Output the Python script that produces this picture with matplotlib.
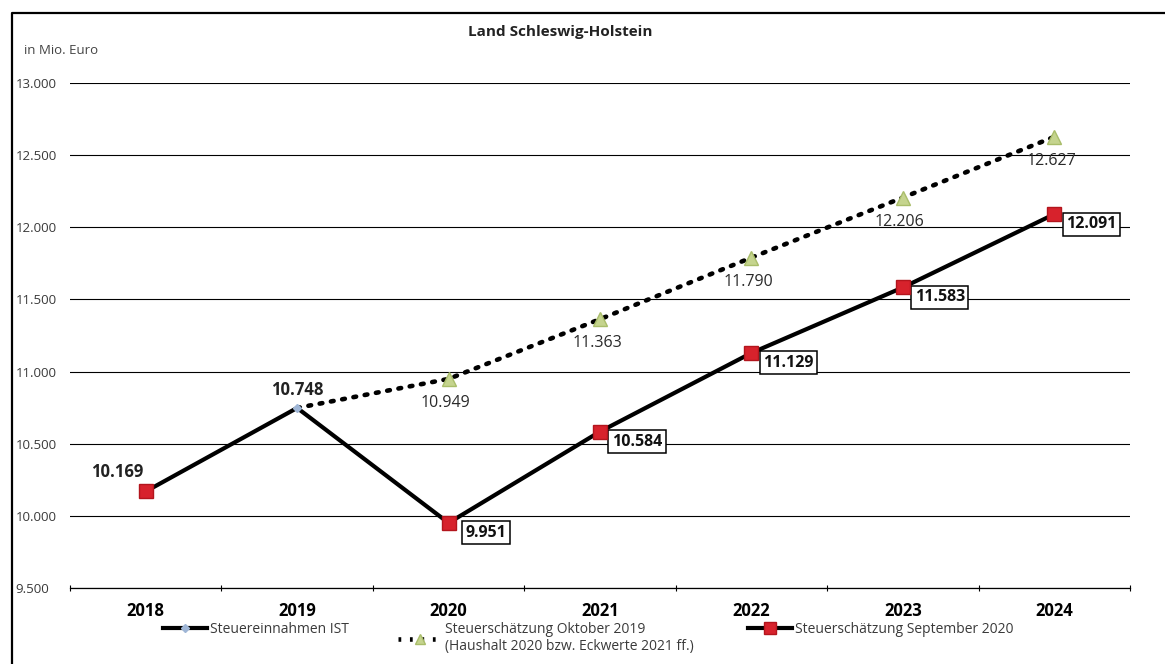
import numpy as np
import matplotlib.pyplot as plt
from matplotlib.lines import Line2D
from matplotlib.ticker import FuncFormatter

plt.rcParams['font.family'] = ['Open Sans', 'DejaVu Sans']

years = ["2018", "2019", "2020", "2021", "2022", "2023", "2024"]
ist = [10169, 10748]
okt2019 = [None, 10748, 10949, 11363, 11790, 12206, 12627]
sep2020 = [10169, 10748, 9951, 10584, 11129, 11583, 12091]
y_ticks = [9500, 10000, 10500, 11000, 11500, 12000, 12500, 13000]

W, H = 1165, 664
RED, RED_EDGE = "#d7222c", "#b3151d"
GREEN, GREEN_EDGE = "#c5d48e", "#a9bd6a"
BLUE = "#9fb6d6"
DOTS = (0, (0.6, 1.9))


def de_num(v, pos=None):
    return f"{int(v):,}".replace(",", ".")


fig = plt.figure(figsize=(W / 100, H / 100), dpi=100)
ax = fig.add_axes([70 / W, 1 - 588 / H, (1130 - 70) / W, (588 - 83) / H])

x = np.arange(len(years))
x_okt = [i for i, v in zip(x, okt2019) if v is not None]
y_okt = [v for v in okt2019 if v is not None]

# lines
ax.plot(x, sep2020, color="black", lw=3, zorder=3)
ax.plot(x_okt, y_okt, color="black", lw=3.3, ls=DOTS, dash_capstyle="round", zorder=3)
ax.plot(x_okt[1:], y_okt[1:], ls="none", marker="^", ms=9.5,
        color=GREEN, mec=GREEN_EDGE, zorder=4)
ax.plot(x, sep2020, ls="none", marker="s", ms=9.5, markevery=[0, 2, 3, 4, 5, 6],
        color=RED, mec=RED_EDGE, zorder=5)
ax.plot(x[:len(ist)], ist, ls="none", marker="D", ms=4, markevery=[1],
        color=BLUE, zorder=5)

# data labels
ax.annotate(de_num(ist[0]), (x[0], ist[0]), xytext=(-28, 19), textcoords="offset pixels",
            ha="center", va="center", fontsize=12, fontweight="bold", color="#222222")
ax.annotate(de_num(ist[1]), (x[1], ist[1]), xytext=(0, 18), textcoords="offset pixels",
            ha="center", va="center", fontsize=12, fontweight="bold", color="#222222")
for xi, v in zip(x_okt[1:], y_okt[1:]):
    ax.annotate(de_num(v), (xi, v), xytext=(-3, -24), textcoords="offset pixels",
                ha="center", va="center", fontsize=11.5, color="#2a2a2a")
for xi, v in zip(x[2:], sep2020[2:]):
    ax.annotate(de_num(v), (xi, v), xytext=(37, -10), textcoords="offset pixels",
                ha="center", va="center", fontsize=11.5, fontweight="bold", color="#111111",
                bbox=dict(boxstyle="square,pad=0.22", fc="white", ec="black", lw=1.1))

# axes styling
ax.set_xlim(-0.5, len(years) - 0.5)
ax.set_ylim(9500, 13000)
ax.set_yticks(y_ticks)
ax.yaxis.set_major_formatter(FuncFormatter(de_num))
ax.grid(axis="y", color="black", lw=0.8)
ax.set_axisbelow(True)
for s in ["left", "right", "top"]:
    ax.spines[s].set_visible(False)
ax.spines["bottom"].set_linewidth(0.9)
ax.tick_params(axis="y", length=0, pad=39, labelsize=9.5, labelcolor="#3a3a3a")
for lab in ax.get_yticklabels():
    lab.set_horizontalalignment("left")

ax.set_xticks(x)
ax.set_xticklabels(years, fontsize=12, fontweight="bold")
ax.set_xticks(np.arange(-0.5, len(years), 1), minor=True)
ax.tick_params(axis="x", which="major", length=0, pad=10)
ax.tick_params(axis="x", which="minor", length=4, direction="inout", width=0.8)

# legend: one entry per block, placed like the original
entries = [
    (Line2D([], [], color="black", lw=3, marker="D", ms=4, mfc=BLUE, mec=BLUE),
     "Steuereinnahmen IST", 163),
    (Line2D([], [], color="black", lw=3.3, ls=DOTS, marker="^", ms=7, mfc=GREEN, mec=GREEN_EDGE),
     "Steuerschätzung Oktober 2019\n(Haushalt 2020 bzw. Eckwerte 2021 ff.)", 398),
    (Line2D([], [], color="black", lw=3, marker="s", ms=8, mfc=RED, mec=RED_EDGE),
     "Steuerschätzung September 2020", 748),
]
for handle, text, left in entries:
    fig.legend([handle], [text], loc="upper left", bbox_to_anchor=(left / W, 1 - 622 / H),
               frameon=False, fontsize=10, handlelength=3.2, handletextpad=0.2,
               borderpad=0, borderaxespad=0, labelspacing=0, labelcolor="#3a3a3a",
               prop={"size": 10, "family": ["Open Sans", "DejaVu Sans"]})

# title and unit
fig.text(560 / W, 1 - 32 / H, "Land Schleswig-Holstein", ha="center", va="center",
         fontsize=11, fontweight="bold", color="#222222")
fig.text(24 / W, 1 - 51 / H, "in Mio. Euro", ha="left", va="center",
         fontsize=9.5, color="#444444")

# outer frame (top and left)
fig.add_artist(Line2D([12 / W, 12 / W, 1.0], [0.0, 1 - 13 / H, 1 - 13 / H],
                      transform=fig.transFigure, color="black", lw=1.6))

fig.savefig("out.png", dpi=100, facecolor="white")
